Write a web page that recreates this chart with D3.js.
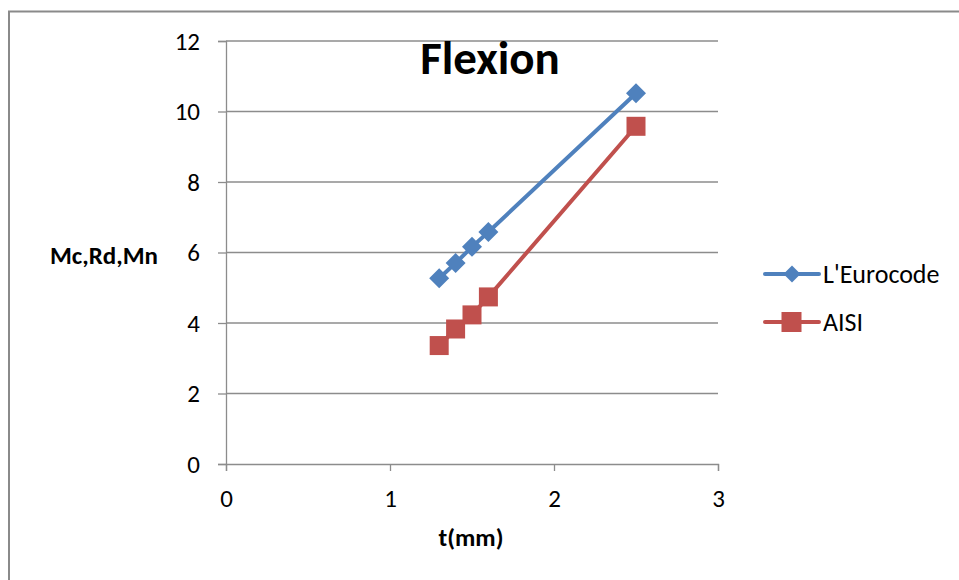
<!DOCTYPE html>
<html>
<head>
<meta charset="utf-8">
<script src="https://cdn.jsdelivr.net/npm/d3@7/dist/d3.min.js"></script>
<style>
  html, body { margin: 0; padding: 0; background: #fff; }
  svg { display: block; }
</style>
</head>
<body>
<svg id="chart" width="959" height="580"></svg>
<script>
// Thickness t (mm) and bending resistance for the two design codes
const thickness = [1.3, 1.4, 1.5, 1.6, 2.5];
const eurocode = [5.27, 5.70, 6.16, 6.58, 10.52];
const aisi = [3.36, 3.83, 4.23, 4.74, 9.58];
const seriesNames = ["L'Eurocode", "AISI"];
const xTicks = [0, 1, 2, 3];
const yTicks = [0, 2, 4, 6, 8, 10, 12];

const font = "Carlito, Calibri, Lato, 'Open Sans', 'Liberation Sans', sans-serif";
const blue = "#4F81BD", red = "#C0504D", grid = "#8c8c8c";

const svg = d3.select("#chart");

// outer chart frame
svg.append("rect")
  .attr("x", 9).attr("y", 11.5)
  .attr("width", 1000).attr("height", 1000)
  .attr("fill", "none").attr("stroke", "#8a8a8a").attr("stroke-width", 2);

const x = d3.scaleLinear().domain([0, 3]).range([226, 718]);
const y = d3.scaleLinear().domain([0, 12]).range([464, 41]);

// horizontal gridlines
svg.append("g").selectAll("line").data(yTicks.filter(d => d > 0)).join("line")
  .attr("x1", x(0)).attr("x2", x(3))
  .attr("y1", d => y(d)).attr("y2", d => y(d))
  .attr("stroke", grid).attr("stroke-width", 1.3);

// y axis
const yAxis = svg.append("g").attr("transform", `translate(${x(0)},0)`)
  .call(d3.axisLeft(y).tickValues(yTicks).tickSize(8).tickPadding(18).tickFormat(d3.format("d")));
// x axis
const xAxis = svg.append("g").attr("transform", `translate(0,${y(0)})`)
  .call(d3.axisBottom(x).tickValues(xTicks).tickSize(7).tickPadding(18).tickFormat(d3.format("d")));

[yAxis, xAxis].forEach(g => {
  g.attr("font-family", font).attr("font-size", 25);
  g.select(".domain").attr("stroke", grid).attr("stroke-width", 1.3);
  g.selectAll(".tick line").attr("stroke", grid).attr("stroke-width", 1.3);
  g.selectAll("text").attr("fill", "#000");
});

// series
const line = d3.line().x(d => x(d[0])).y(d => y(d[1]));
const euroPts = thickness.map((t, i) => [t, eurocode[i]]);
const aisiPts = thickness.map((t, i) => [t, aisi[i]]);

const diamond = d3.symbol().type(d3.symbolSquare).size(200);

svg.append("path").datum(euroPts).attr("d", line)
  .attr("fill", "none").attr("stroke", blue).attr("stroke-width", 4);
svg.append("g").selectAll("path").data(euroPts).join("path")
  .attr("d", diamond)
  .attr("transform", d => `translate(${x(d[0])},${y(d[1])}) rotate(45)`)
  .attr("fill", blue);

svg.append("path").datum(aisiPts).attr("d", line)
  .attr("fill", "none").attr("stroke", red).attr("stroke-width", 4);
svg.append("g").selectAll("rect").data(aisiPts).join("rect")
  .attr("x", d => x(d[0]) - 9.5).attr("y", d => y(d[1]) - 9.5)
  .attr("width", 19).attr("height", 19)
  .attr("fill", red);

// title and axis titles
svg.append("text").attr("x", 490).attr("y", 74).attr("text-anchor", "middle")
  .attr("font-family", font).attr("font-size", 47).attr("font-weight", "bold")
  .text("Flexion");
svg.append("text").attr("x", 104).attr("y", 264).attr("text-anchor", "middle")
  .attr("font-family", font).attr("font-size", 25).attr("font-weight", "bold")
  .text("Mc,Rd,Mn");
svg.append("text").attr("x", 471).attr("y", 546).attr("text-anchor", "middle")
  .attr("font-family", font).attr("font-size", 25).attr("font-weight", "bold")
  .text("t(mm)");

// legend
const legend = svg.append("g");
const legendY = [274, 322];
[blue, red].forEach((c, i) => {
  const g = legend.append("g").attr("transform", `translate(0,${legendY[i]})`);
  g.append("line").attr("x1", 765).attr("x2", 819).attr("y1", 0).attr("y2", 0)
    .attr("stroke", c).attr("stroke-width", 4).attr("stroke-linecap", "round");
  if (i === 0) {
    g.append("path").attr("d", d3.symbol().type(d3.symbolSquare).size(144))
      .attr("transform", "translate(792,0) rotate(45)").attr("fill", c);
  } else {
    g.append("rect").attr("x", 781.5).attr("y", -10).attr("width", 20).attr("height", 20).attr("fill", c);
  }
  g.append("text").attr("x", 823).attr("y", 9)
    .attr("font-family", font).attr("font-size", 26).text(seriesNames[i]);
});
</script>
</body>
</html>
